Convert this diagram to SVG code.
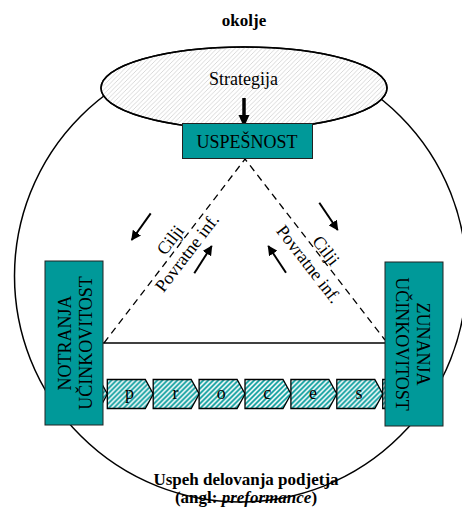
<svg xmlns="http://www.w3.org/2000/svg" width="462" height="508" viewBox="0 0 462 508">
<style>
.t{font-family:"Liberation Serif","Times New Roman",serif;fill:#000}
.b{font-weight:bold}
.box{fill:#009999;stroke:#222;stroke-width:1}
.dash{stroke:#000;stroke-width:1.3;stroke-dasharray:7 5;fill:none}
.arr{stroke:#000;stroke-width:2;fill:none;marker-end:url(#ah)}
</style>
<defs>
<pattern id="gh" patternUnits="userSpaceOnUse" width="4.5" height="4.5">
<path d="M-1,1 l2,-2 M0,4.5 l4.5,-4.5 M3.5,5.5 l2,-2" stroke="#cfcfcf" stroke-width="0.8"/>
</pattern>
<pattern id="th" patternUnits="userSpaceOnUse" width="5" height="5">
<rect width="5" height="5" fill="#fff"/>
<path d="M-1,1 l2,-2 M0,5 l5,-5 M4,6 l2,-2" stroke="#009999" stroke-width="1.8"/>
</pattern>
<marker id="ah" markerUnits="userSpaceOnUse" markerWidth="10" markerHeight="10" viewBox="0 0 10 10" refX="9" refY="5" orient="auto">
<path d="M0,0 L10,5 L0,10 z" fill="#000"/>
</marker>
<path id="chev" d="M0,0 h38 l8,14.5 l-8,14.5 h-38 z" fill="url(#th)" stroke="#000" stroke-width="1.3"/>
</defs>

<g id="okolje-circle">
<circle cx="240.5" cy="276" r="226" fill="none" stroke="#000" stroke-width="1.5"/>
</g>
<text class="t b" x="244" y="26" font-size="17" text-anchor="middle">okolje</text>

<g id="strategija">
<ellipse cx="244" cy="88" rx="143" ry="41" fill="#fff" stroke="#000" stroke-width="1.5"/>
<ellipse cx="244" cy="88" rx="143" ry="41" fill="url(#gh)" stroke="#000" stroke-width="1.5"/>
<text class="t" x="243.5" y="85" font-size="18" text-anchor="middle">Strategija</text>
</g>

<g id="connectors">
<line x1="244" y1="98" x2="244" y2="116" stroke="#000" stroke-width="3.5"/>
<polygon points="238.5,115 249.5,115 244,127" fill="#000"/>
<path class="dash" d="M104,343 L245,159 L385,340"/>
<line x1="103" y1="343" x2="385" y2="343" stroke="#000" stroke-width="1.5"/>
<line class="arr" x1="150.7" y1="213.3" x2="131.7" y2="240"/>
<line class="arr" x1="194.3" y1="273.3" x2="211.7" y2="246"/>
<line class="arr" x1="319.3" y1="202.7" x2="337.7" y2="230"/>
<line class="arr" x1="286" y1="272.7" x2="268.3" y2="246"/>
</g>

<g id="uspesnost">
<rect class="box" x="182.5" y="123.5" width="130" height="35"/>
<text class="t" x="247" y="148" font-size="18" text-anchor="middle">USPEŠNOST</text>
</g>

<g id="labels-left" transform="translate(178.2,246.1) rotate(-52.5)">
<text class="t" x="0" y="-4" font-size="18" text-anchor="middle">Cilji</text>
<text class="t" x="0" y="17" font-size="18" text-anchor="middle">Povratne inf.</text>
</g>
<g id="labels-right" transform="translate(319.7,255.5) rotate(52.3)">
<text class="t" x="0" y="-2" font-size="18" text-anchor="middle">Cilji</text>
<text class="t" x="0" y="20" font-size="18" text-anchor="middle">Povratne inf.</text>
</g>

<g id="proces">
<use href="#chev" x="61.4" y="379.5"/>
<use href="#chev" x="107.3" y="379.5"/>
<use href="#chev" x="153.2" y="379.5"/>
<use href="#chev" x="199.1" y="379.5"/>
<use href="#chev" x="245" y="379.5"/>
<use href="#chev" x="290.9" y="379.5"/>
<use href="#chev" x="336.8" y="379.5"/>
<use href="#chev" x="382.7" y="379.5"/>
<g class="t" font-size="18" text-anchor="middle">
<text x="129.5" y="399">p</text>
<text x="175.4" y="399">r</text>
<text x="221.3" y="399">o</text>
<text x="267.2" y="399">c</text>
<text x="313.1" y="399">e</text>
<text x="359" y="399">s</text>
</g>
</g>

<g id="notranja">
<rect class="box" x="45" y="261" width="58" height="164"/>
<g transform="translate(74,343) rotate(-90)">
<text class="t" x="0" y="-3" font-size="18" text-anchor="middle">NOTRANJA</text>
<text class="t" x="0" y="18" font-size="18" text-anchor="middle">UČINKOVITOST</text>
</g>
</g>

<g id="zunanja">
<rect class="box" x="385" y="262" width="58" height="164"/>
<g transform="translate(414,344) rotate(90)">
<text class="t" x="0" y="-3" font-size="18" text-anchor="middle">ZUNANJA</text>
<text class="t" x="0" y="18" font-size="18" text-anchor="middle">UČINKOVITOST</text>
</g>
</g>

<text class="t b" x="246" y="485" font-size="17" text-anchor="middle">Uspeh delovanja podjetja</text>
<text class="t b" x="246" y="503" font-size="17" text-anchor="middle">(angl: <tspan font-style="italic">preformance</tspan>)</text>
</svg>
